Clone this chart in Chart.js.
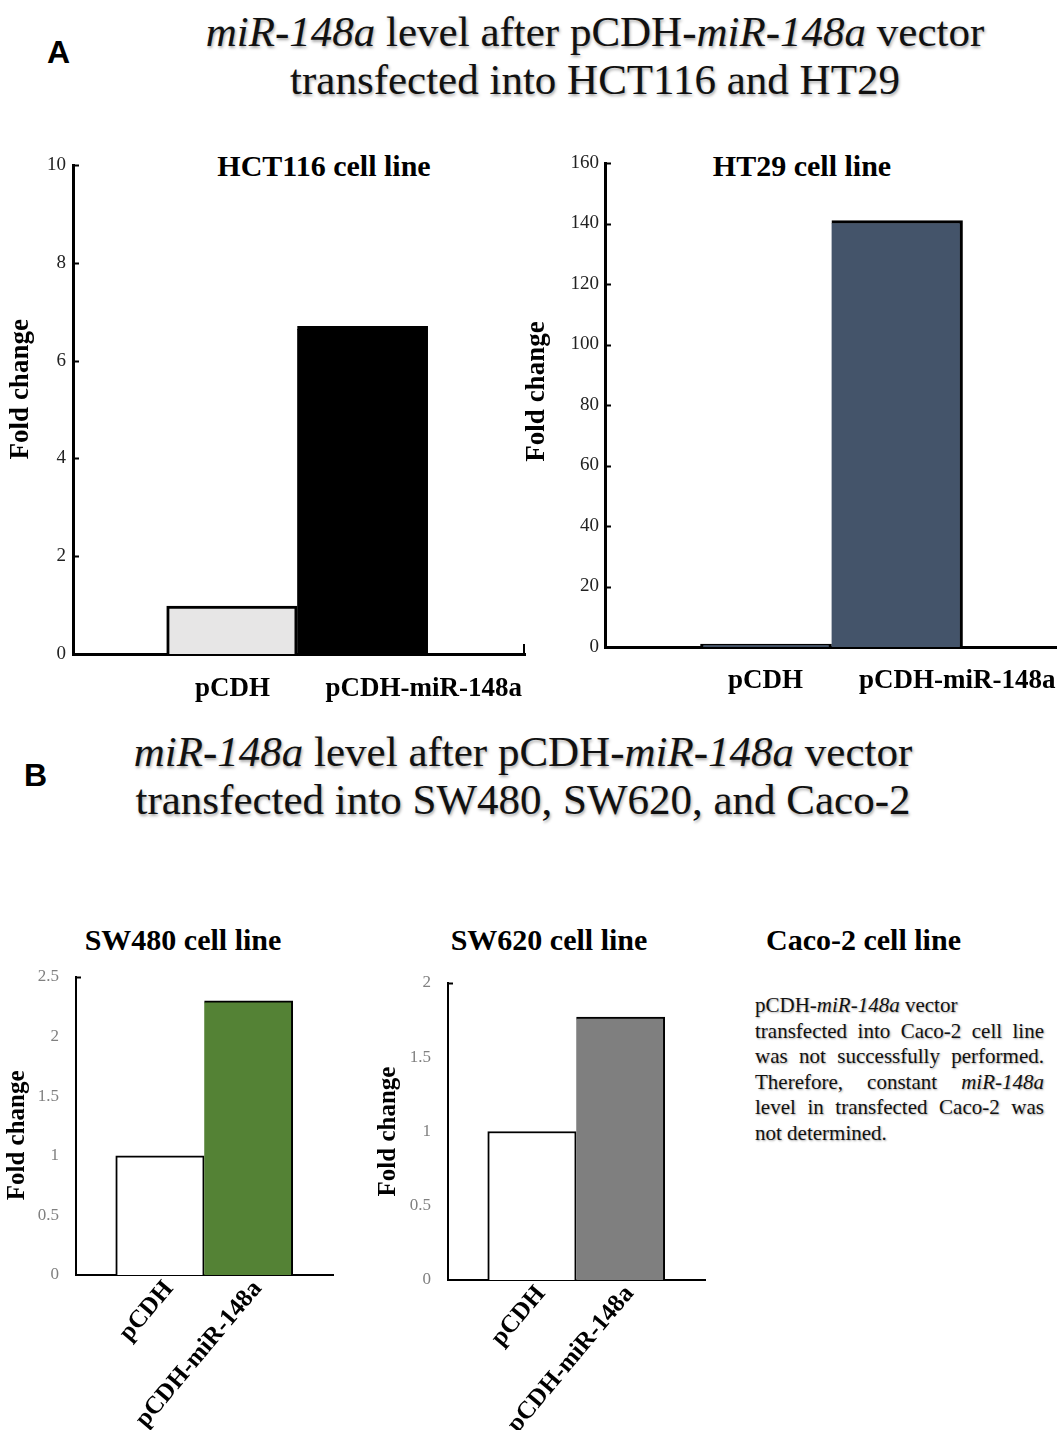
<!DOCTYPE html>
<html>
<head>
<meta charset="utf-8">
<script src="https://cdn.jsdelivr.net/npm/chart.js@4.4.0/dist/chart.umd.min.js"></script>
<style>
  html, body { margin: 0; padding: 0; background: #fff; }
  body { width: 1057px; height: 1432px; position: relative; overflow: hidden; font-family: 'Liberation Serif', 'Times New Roman', serif; color: #000; }
  .abs { position: absolute; white-space: nowrap; }
  .panel { font-family: 'Liberation Sans', Arial, sans-serif; font-weight: bold; font-size: 32px; line-height: 32px; }
  .main { font-size: 43px; line-height: 48px; text-align: center; color: #111; text-shadow: 1px 2px 3px rgba(0,0,0,0.35); }
  .ctitle { font-weight: bold; font-size: 30px; line-height: 34px; text-align: center; }
  canvas { position: absolute; }
  .note { position: absolute; left: 755px; top: 993px; width: 289px; font-size: 21px; line-height: 25.5px; text-align: justify; color: #111; text-shadow: 1px 1px 2px rgba(0,0,0,0.35); }
</style>
</head>
<body>
<div class="abs panel" style="left:47px;top:36px;">A</div>
<div class="abs main" style="left:95px;top:8px;width:1000px;"><i>miR-148a</i> level after pCDH-<i>miR-148a</i> vector<br>transfected into HCT116 and HT29</div>
<div class="abs ctitle" style="left:174px;top:149px;width:300px;">HCT116 cell line</div>
<div class="abs ctitle" style="left:652px;top:149px;width:300px;">HT29 cell line</div>

<div class="abs panel" style="left:24px;top:759px;">B</div>
<div class="abs main" style="left:23px;top:728px;width:1000px;"><i>miR-148a</i> level after pCDH-<i>miR-148a</i> vector<br>transfected into SW480, SW620, and Caco-2</div>
<div class="abs ctitle" style="left:33px;top:923px;width:300px;">SW480 cell line</div>
<div class="abs ctitle" style="left:399px;top:923px;width:300px;">SW620 cell line</div>
<div class="abs ctitle" style="left:766px;top:923px;text-align:left;">Caco-2 cell line</div>
<div class="note">pCDH-<i>miR-148a</i> vector<br>transfected into Caco-2 cell line was not successfully performed. Therefore, constant <i>miR-148a</i> level in transfected Caco-2 was not determined.</div>

<canvas id="c1" width="540" height="580" style="left:0px;top:140px;"></canvas>
<canvas id="c2" width="542" height="580" style="left:515px;top:140px;"></canvas>
<canvas id="c3" width="360" height="472" style="left:0px;top:960px;"></canvas>
<canvas id="c4" width="360" height="472" style="left:370px;top:960px;"></canvas>

<script>
// ---- data ----
const categories = ['pCDH', 'pCDH-miR-148a'];
const hct116Values = [0.98, 6.7];
const ht29Values = [1, 141];
const sw480Values = [1, 2.3];
const sw620Values = [1, 1.77];
const hct116YTicks = [0, 2, 4, 6, 8, 10];
const ht29YTicks = [0, 20, 40, 60, 80, 100, 120, 140, 160];
const sw480YTicks = [0, 0.5, 1, 1.5, 2, 2.5];
const sw620YTicks = [0, 0.5, 1, 1.5, 2];
const yAxisTitle = 'Fold change';

const SERIF = "'Liberation Serif', 'Times New Roman', serif";

const innerTicks = {
  id: 'innerTicks',
  afterDraw(chart, args, opts) {
    const { ctx, chartArea } = chart;
    const ys = chart.scales.y;
    ctx.save();
    ctx.strokeStyle = '#000';
    ctx.lineWidth = opts.width || 2;
    ctx.beginPath();
    const list = opts.onlyTop ? [ys.ticks[ys.ticks.length - 1]] : ys.ticks;
    list.forEach(t => {
      const py = Math.round(ys.getPixelForValue(t.value)) + 0.5;
      ctx.moveTo(chartArea.left, py);
      ctx.lineTo(chartArea.left + opts.length, py);
    });
    if (opts.xEnd) {
      ctx.moveTo(chartArea.right - 1, chartArea.bottom);
      ctx.lineTo(chartArea.right - 1, chartArea.bottom - opts.xEnd);
    }
    ctx.stroke();
    ctx.restore();
  }
};

function makeChart(id, cfg) {
  const data = cfg.values.map((v, i) => ({ x: i + 1, y: v }));
  return new Chart(document.getElementById(id), {
    type: 'bar',
    data: {
      datasets: [{
        data: data,
        backgroundColor: cfg.colors,
        borderColor: '#000',
        borderWidth: cfg.borderWidths,
        borderSkipped: false,
        barPercentage: 1,
        categoryPercentage: 1
      }]
    },
    plugins: [innerTicks],
    options: {
      responsive: false,
      animation: false,
      layout: { padding: cfg.padding },
      plugins: {
        legend: { display: false },
        tooltip: { enabled: false },
        title: { display: false },
        innerTicks: cfg.inner
      },
      scales: {
        x: {
          type: 'linear',
          min: cfg.xMin,
          max: cfg.xMax,
          offset: false,
          z: 1,
          grid: { display: false, drawTicks: false },
          border: { display: true, color: '#000', width: cfg.axisWidth },
          afterBuildTicks: s => { s.ticks = categories.map((c, i) => ({ value: i + 1 })); },
          afterFit: s => { s.height = cfg.xHeight; s.paddingLeft = 0; s.paddingRight = 0; },
          ticks: {
            autoSkip: false,
            align: cfg.xAlign,
            labelOffset: cfg.xLabelOffset,
            padding: cfg.xPadding,
            minRotation: cfg.rotation,
            maxRotation: cfg.rotation,
            color: '#000',
            font: { family: SERIF, weight: 'bold', size: cfg.xFont },
            callback: v => categories[v - 1] || ''
          }
        },
        y: {
          min: cfg.yTicks[0],
          max: cfg.yTicks[cfg.yTicks.length - 1],
          z: 1,
          grid: { display: false, drawTicks: false },
          border: { display: true, color: '#000', width: cfg.axisWidth },
          afterBuildTicks: s => { s.ticks = cfg.yTicks.map(v => ({ value: v })); },
          afterFit: s => { s.width = cfg.yWidth; s.paddingTop = 0; s.paddingBottom = 0; },
          ticks: {
            padding: cfg.yPadding,
            color: cfg.yTickColor,
            font: { family: SERIF, size: cfg.yFont },
            callback: v => String(v)
          },
          title: {
            display: true,
            text: cfg.titleLead + yAxisTitle + cfg.titleTrail,
            color: '#000',
            padding: { top: cfg.titlePad, bottom: 0 },
            font: { family: SERIF, weight: 'bold', size: cfg.titleFont, lineHeight: 1 }
          }
        }
      }
    }
  });
}

// HCT116
makeChart('c1', {
  values: hct116Values,
  colors: ['#e7e6e6', '#000000'],
  borderWidths: [{ top: 3, left: 3, right: 3, bottom: 0 }, { top: 3, left: 0, right: 3, bottom: 0 }],
  padding: { left: 0, right: 15, top: 25, bottom: 16 },
  xMin: -0.218, xMax: 3.246,
  axisWidth: 3, xHeight: 50, xAlign: 'start', xLabelOffset: -37, xPadding: 19, rotation: 0, xFont: 27,
  yTicks: hct116YTicks, yWidth: 73, yPadding: 7, yTickColor: '#222', yFont: 19,
  titlePad: 8, titleFont: 27, titleLead: '      ', titleTrail: '',
  inner: { length: 6, width: 2, onlyTop: false, xEnd: 10 }
});

// HT29
makeChart('c2', {
  values: ht29Values,
  colors: ['#44546a', '#44546a'],
  borderWidths: [{ top: 3, left: 3, right: 3, bottom: 0 }, { top: 3, left: 0, right: 3, bottom: 0 }],
  padding: { left: 0, right: 0, top: 23, bottom: 23 },
  xMin: -0.229, xMax: 3.221,
  axisWidth: 3, xHeight: 50, xAlign: 'start', xLabelOffset: -38, xPadding: 18, rotation: 0, xFont: 27,
  yTicks: ht29YTicks, yWidth: 90, yPadding: 6, yTickColor: '#222', yFont: 19,
  titlePad: 9, titleFont: 27, titleLead: '    ', titleTrail: '',
  inner: { length: 6, width: 2, onlyTop: false, xEnd: 0 }
});

// SW480
makeChart('c3', {
  values: sw480Values,
  colors: ['#ffffff', '#548235'],
  borderWidths: [{ top: 2, left: 2, right: 2, bottom: 0 }, { top: 2, left: 0, right: 2, bottom: 0 }],
  padding: { left: 0, right: 27, top: 17, bottom: 2 },
  xMin: 0.051, xMax: 2.955,
  axisWidth: 2, xHeight: 155, xAlign: 'center', xLabelOffset: 9, xPadding: 0, rotation: 50, xFont: 25,
  yTicks: sw480YTicks, yWidth: 76, yPadding: 17, yTickColor: '#808080', yFont: 17,
  titlePad: 5, titleFont: 25, titleLead: '', titleTrail: '   ',
  inner: { length: 5, width: 2, onlyTop: true, xEnd: 0 }
});

// SW620
makeChart('c4', {
  values: sw620Values,
  colors: ['#ffffff', '#7f7f7f'],
  borderWidths: [{ top: 2, left: 2, right: 2, bottom: 0 }, { top: 2, left: 0, right: 2, bottom: 0 }],
  padding: { left: 0, right: 25, top: 23, bottom: 2 },
  xMin: 0.051, xMax: 2.955,
  axisWidth: 2, xHeight: 150, xAlign: 'center', xLabelOffset: 9, xPadding: 0, rotation: 50, xFont: 25,
  yTicks: sw620YTicks, yWidth: 78, yPadding: 17, yTickColor: '#808080', yFont: 17,
  titlePad: 6, titleFont: 25, titleLead: '', titleTrail: '',
  inner: { length: 5, width: 2, onlyTop: true, xEnd: 0 }
});
</script>
</body>
</html>
